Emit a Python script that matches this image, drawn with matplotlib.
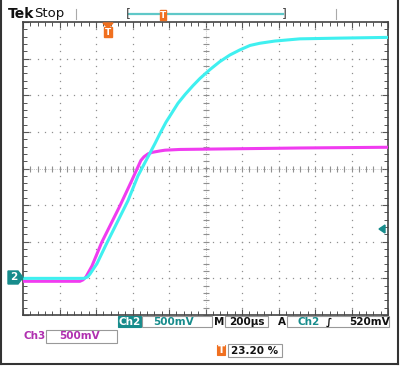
import numpy as np
import matplotlib.pyplot as plt
from matplotlib.patches import Rectangle, Polygon

plt.rcParams["font.family"] = ["DejaVu Sans"]

# ---- scope settings ----
time_per_div = 200.0      # us/div
trig_pos = 0.232          # fraction of record
ch2_vdiv = 0.5
ch3_vdiv = 0.5
ch2_offset = -3.0         # divisions
ch3_offset = -3.0

# ---- waveforms ----
ch2_t = [-464, -130, -110, -97, -78, -59, -9, 51, 111, 166, 221, 259, 287, 319,
         352, 385, 424, 467, 506, 560, 615, 670, 725, 780, 834, 916, 1053, 1272, 1536]
ch2_v = [0.0, 0.0, 0.02, 0.06, 0.13, 0.20, 0.46, 0.76, 1.06, 1.40, 1.66, 1.84,
         1.98, 2.13, 2.26, 2.39, 2.51, 2.63, 2.73, 2.85, 2.96, 3.05, 3.12, 3.18,
         3.21, 3.24, 3.27, 3.28, 3.29]

ch3_t = [-464, -152, -135, -119, -86, -33, 67, 131, 160, 182, 199, 221, 243, 287,
         314, 396, 1053, 1536]
ch3_v = [-0.04, -0.04, -0.02, 0.02, 0.17, 0.49, 0.99, 1.33, 1.49, 1.61, 1.66,
         1.70, 1.72, 1.74, 1.75, 1.76, 1.78, 1.79]

CYAN = "#3ff0f0"
MAGENTA = "#f03cf0"
TEAL = "#178c8c"
ORANGE = "#f07020"
GRID = "#909090"


def to_div_x(t):
    return np.asarray(t) / time_per_div + trig_pos * 10


def to_div_y(v, vdiv, off):
    return np.asarray(v) / vdiv + off


fig = plt.figure(figsize=(4.0, 3.66), dpi=100, facecolor="white")
ax = fig.add_axes([23 / 400, 1 - 315 / 366, 365 / 400, 293 / 366])
ax.set_xlim(0, 10)
ax.set_ylim(-4, 4)

# graticule dots
for gx in range(1, 10):
    ys = np.arange(-4, 4.01, 0.2)
    ax.plot(np.full_like(ys, gx), ys, ls="none", marker="s", ms=0.9, color=GRID, mec="none")
for gy in range(-3, 4):
    xs = np.arange(0, 10.01, 0.2)
    ax.plot(xs, np.full_like(xs, gy), ls="none", marker="s", ms=0.9, color=GRID, mec="none")

# centre cross with minor ticks
ax.axvline(5, color=GRID, lw=0.5, ls=(0, (1, 2)))
ax.axhline(0, color=GRID, lw=0.5, ls=(0, (1, 2)))
ys = np.arange(-4, 4.01, 0.2)
ax.plot(np.full_like(ys, 5), ys, ls="none", marker="_", ms=5, mew=0.8, color=GRID)
xs = np.arange(0, 10.01, 0.2)
ax.plot(xs, np.zeros_like(xs), ls="none", marker="|", ms=5, mew=0.8, color=GRID)

# border ticks
ax.set_xticks(np.arange(0, 11, 1))
ax.set_yticks(np.arange(-4, 5, 1))
ax.set_xticks(np.arange(0, 10.01, 0.2), minor=True)
ax.set_yticks(np.arange(-4, 4.01, 0.2), minor=True)
ax.tick_params(which="both", direction="in", top=True, right=True,
               labelbottom=False, labelleft=False, color="#555555")
ax.tick_params(which="major", length=4, width=0.8)
ax.tick_params(which="minor", length=3, width=0.7)
for s in ax.spines.values():
    s.set_color("#444444")
    s.set_linewidth(1.2)

# traces
ax.plot(to_div_x(ch3_t), to_div_y(ch3_v, ch3_vdiv, ch3_offset), color=MAGENTA, lw=2.2,
        solid_joinstyle="round", zorder=3)
ax.plot(to_div_x(ch2_t), to_div_y(ch2_v, ch2_vdiv, ch2_offset), color=CYAN, lw=2.2,
        solid_joinstyle="round", zorder=4)

# ---- figure-level decorations (pixel coords) ----
def px(x, y):
    return x / 400, 1 - y / 366

ft = fig.transFigure

# outer frame
for (x0, y0, x1, y1) in [(1, 0, 1, 364), (1, 364, 398, 364), (398, 0, 398, 364)]:
    fig.add_artist(plt.Line2D([px(x0, y0)[0], px(x1, y1)[0]],
                              [px(x0, y0)[1], px(x1, y1)[1]],
                              transform=ft, color="#333333", lw=1.5))

fig.text(*px(8, 14), "Tek", transform=ft, fontsize=10, fontweight="bold",
         va="center", ha="left", color="#111111")
fig.text(*px(34, 14), "Stop", transform=ft, fontsize=9.5, va="center", ha="left",
         color="#111111")
for xx in (76, 336):
    fig.add_artist(plt.Line2D([px(xx, 0)[0]] * 2, [px(0, 9)[1], px(0, 19)[1]],
                              transform=ft, color="#aaaaaa", lw=0.8))

# record bracket
fig.add_artist(plt.Line2D([px(129, 0)[0], px(283, 0)[0]], [px(0, 14)[1]] * 2,
                          transform=ft, color="#5fc8c8", lw=1.6))
fig.text(*px(128, 14), "[", transform=ft, fontsize=9, va="center", ha="center", color="#444444")
fig.text(*px(284, 14), "]", transform=ft, fontsize=9, va="center", ha="center", color="#444444")


def t_marker(xc, yc, w=8, h=10):
    fig.add_artist(Rectangle(px(xc - w / 2, yc + h / 2), w / 400, h / 366, transform=ft,
                             color=ORANGE, zorder=5))
    fig.text(*px(xc, yc + 0.5), "T", transform=ft, fontsize=6.5, fontweight="bold",
             color="white", ha="center", va="center", zorder=6)


t_marker(163, 15, 6, 9)
t_marker(108, 32)
fig.add_artist(Polygon([px(103, 23), px(113, 23), px(108, 28)], closed=True,
                       transform=ft, color=ORANGE, zorder=5))

# ch2 ground marker
fig.add_artist(Polygon([px(8, 271), px(18, 271), px(23, 277.5), px(18, 284), px(8, 284)],
                       closed=True, transform=ft, color=TEAL, zorder=5))
fig.text(*px(13.5, 277.5), "2", transform=ft, fontsize=7.5, fontweight="bold",
         color="white", ha="center", va="center", zorder=6)

# trigger level arrow
fig.add_artist(Polygon([px(379, 229), px(385, 225), px(385, 233)], closed=True,
                       transform=ft, color=TEAL, zorder=5))


def box(x0, y0, x1, y1, fc="white", ec="#999999"):
    fig.add_artist(Rectangle(px(x0, y1), (x1 - x0) / 400, (y1 - y0) / 366,
                             transform=ft, fc=fc, ec=ec, lw=0.8))


def label(x, y, s, color="#111111", ha="left", **kw):
    fig.text(*px(x, y), s, transform=ft, fontsize=7.5, fontweight="bold",
             color=color, ha=ha, va="center", **kw)


# readout row 1
box(118, 316, 141, 327, fc=TEAL, ec=TEAL)
label(129.5, 322, "Ch2", color="white", ha="center")
box(142, 316, 212, 327)
label(153, 322, "500mV", color=TEAL)
label(214, 322, "M")
box(225, 316, 268, 327)
label(229, 322, "200µs")
label(278, 322, "A")
box(287, 316, 389, 327)
label(297, 322, "Ch2", color=TEAL)
label(326, 322, "∫")
label(349, 322, "520mV")

# readout row 2
label(23, 336, "Ch3", color="#b030b0")
box(46, 330, 117, 343)
label(59, 336, "500mV", color="#b030b0")

# trigger position
box(217, 345, 225, 355, fc=ORANGE, ec=ORANGE)
label(221, 350, "T", color="white", ha="center")
box(228, 344, 282, 357)
label(231, 350.5, "23.20 %")

fig.savefig("out.png", dpi=100, facecolor="white")
